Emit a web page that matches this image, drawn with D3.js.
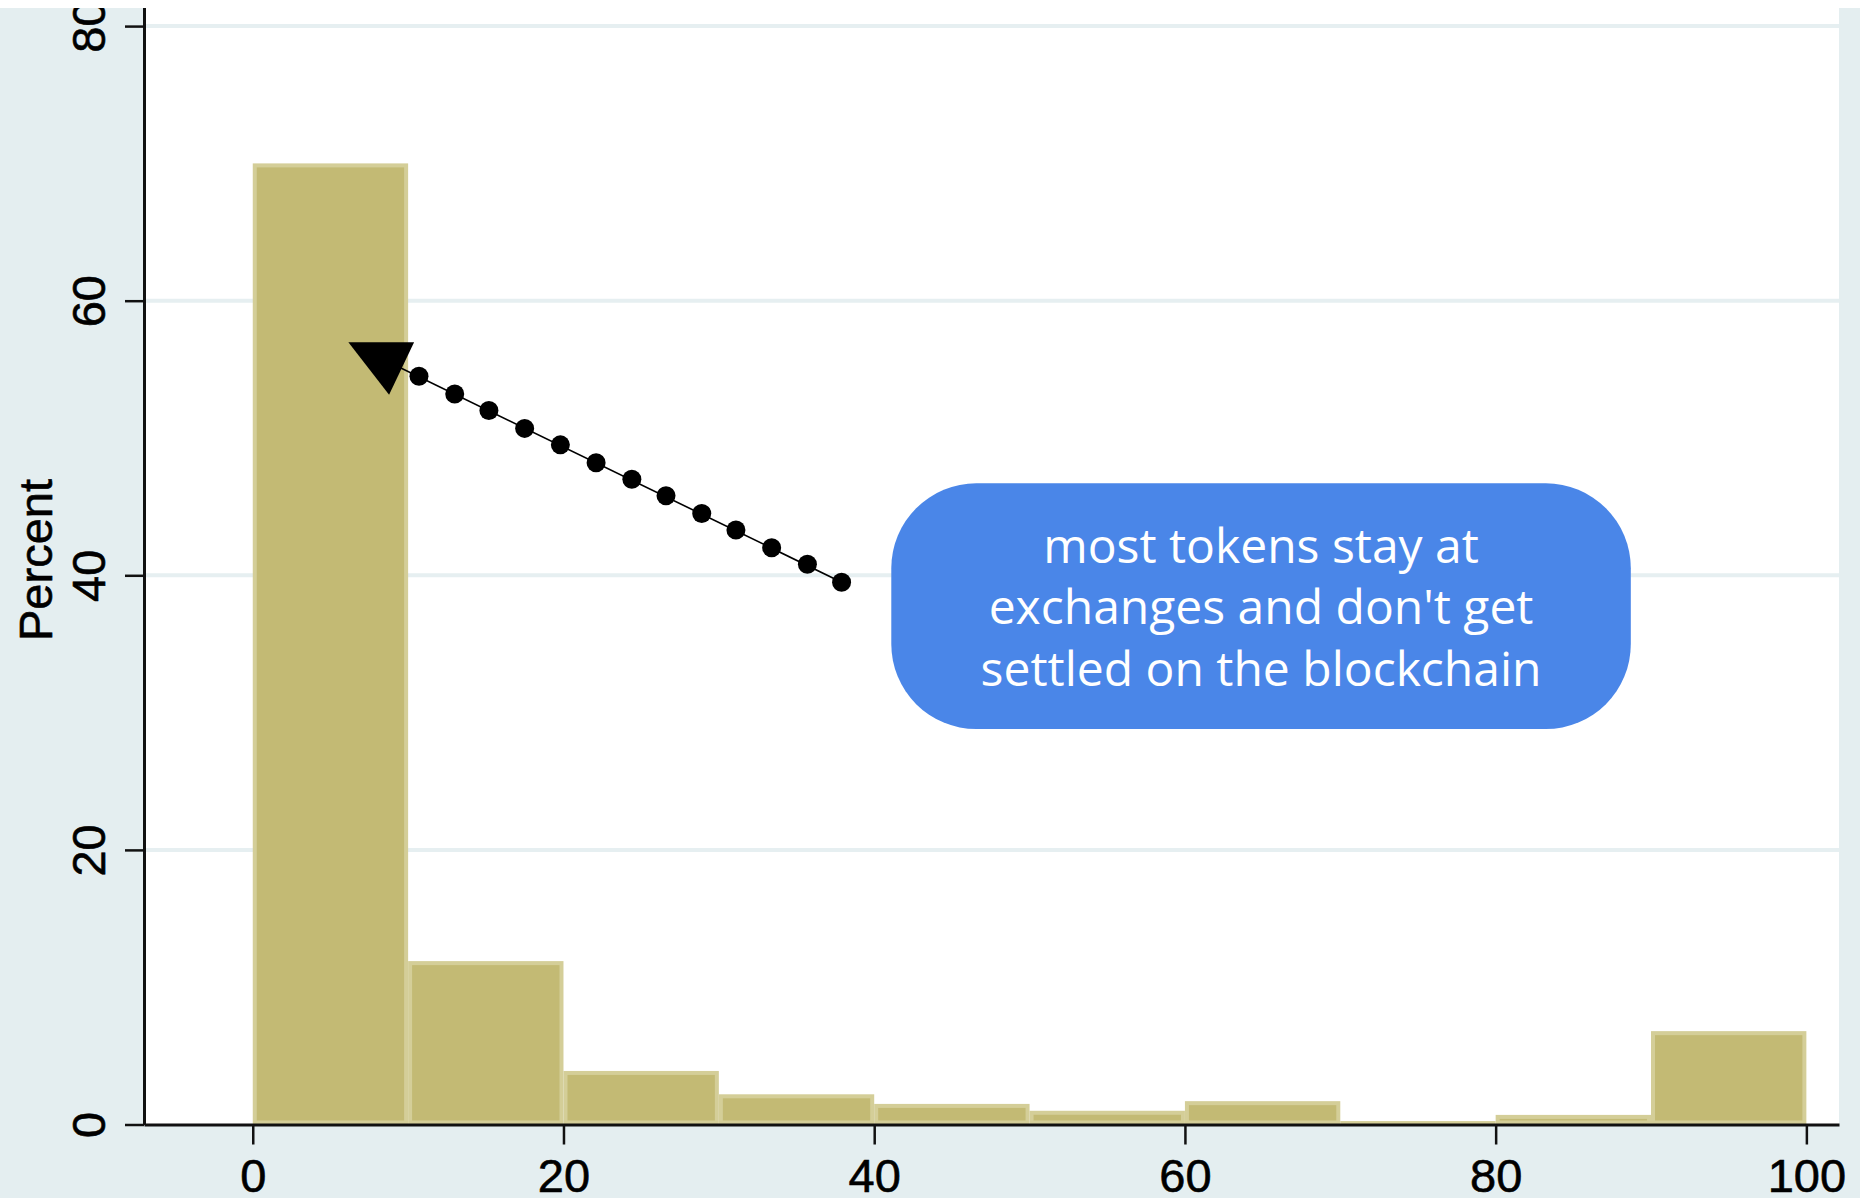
<!DOCTYPE html>
<html>
<head>
<meta charset="utf-8">
<script src="https://cdn.jsdelivr.net/npm/d3@7"></script>
<style>
  html, body { margin: 0; padding: 0; background: #e4eef0; }
  svg { display: block; }
</style>
</head>
<body>
<div id="chart"></div>
<script>
// histogram bins (percent of tokens), width 10
let binStarts = [0, 10, 20, 30, 40, 50, 60, 70, 80, 90];
let binWidth = 10;
let percents = [70.0, 11.9, 3.9, 2.2, 1.5, 1.0, 1.7, 0.25, 0.7, 6.8];

let xTicks = [0, 20, 40, 60, 80, 100];
let yTicks = [0, 20, 40, 60, 80];
let yTitle = "Percent";

// annotation: dotted pointer in data units
let dotX = [10.7, 13.0, 15.2, 17.5, 19.8, 22.1, 24.4, 26.6, 28.9, 31.1, 33.4, 35.7, 37.9];
let dotY = [54.5, 53.2, 52.0, 50.7, 49.5, 48.2, 47.0, 45.8, 44.5, 43.3, 42.0, 40.8, 39.5];
let arrowHead = [8.44, 55.7];
let calloutX = [41.1, 88.7];
let calloutY = [28.8, 46.7];
let calloutLines = ["most tokens stay at", "exchanges and don't get", "settled on the blockchain"];

let W = 1860, H = 1198;
let plotLeft = 144, plotRight = 1839, plotBottom = 1124.5;
let axisFont = "'Liberation Sans', Arial, sans-serif";

let svg = d3.select("#chart").append("svg")
    .attr("width", W)
    .attr("height", H);

// graph region
svg.append("rect")
    .attr("width", W).attr("height", H)
    .attr("fill", "#e4eef0");

// plot region
svg.append("rect")
    .attr("x", plotLeft).attr("y", 0)
    .attr("width", plotRight - plotLeft).attr("height", plotBottom)
    .attr("fill", "#ffffff");

let x = d3.scaleLinear()
    .domain([-7, 102.1])
    .range([plotLeft, plotRight]);

let y = d3.scaleLinear()
    .domain([0, 81.9])
    .range([plotBottom, 0]);

// gridlines
svg.append("g")
  .selectAll("line")
  .data(yTicks.filter(d => d > 0))
  .join("line")
    .attr("x1", plotLeft + 2).attr("x2", plotRight)
    .attr("y1", d => y(d)).attr("y2", d => y(d))
    .attr("stroke", "#e6eff1")
    .attr("stroke-width", 4);

// bars: light outer rect, darker fill inset by 4px
let bars = svg.append("g");
bars.selectAll("rect.edge")
  .data(percents)
  .join("rect")
    .attr("class", "edge")
    .attr("x", (d, i) => x(binStarts[i]))
    .attr("width", (d, i) => x(binStarts[i] + binWidth) - x(binStarts[i]))
    .attr("y", d => y(d))
    .attr("height", d => y(0) - y(d))
    .attr("fill", "#d4ce98");

bars.selectAll("rect.fill")
  .data(percents)
  .join("rect")
    .attr("class", "fill")
    .attr("x", (d, i) => x(binStarts[i]) + 4)
    .attr("width", (d, i) => x(binStarts[i] + binWidth) - x(binStarts[i]) - 8)
    .attr("y", d => y(d) + 4)
    .attr("height", d => Math.max(0, y(0) - y(d) - 8))
    .attr("fill", "#c3ba74");

// x axis
let xAxis = svg.append("g")
    .attr("transform", "translate(0," + plotBottom + ")")
    .call(d3.axisBottom(x).tickValues(xTicks).tickSize(20).tickSizeOuter(0));

xAxis.select(".domain").attr("stroke", "#111").attr("stroke-width", 3);
xAxis.selectAll(".tick line").attr("stroke", "#111").attr("stroke-width", 2.5);
xAxis.selectAll(".tick text")
    .attr("y", 67.5)
    .attr("dy", 0)
    .attr("fill", "#000")
    .attr("stroke", "#000")
    .attr("stroke-width", 0.6)
    .style("font-family", axisFont)
    .style("font-size", "47px");

// y axis
let yAxis = svg.append("g")
    .attr("transform", "translate(" + plotLeft + ",0)")
    .call(d3.axisLeft(y).tickValues(yTicks).tickSize(19).tickSizeOuter(0));

yAxis.select(".domain").attr("stroke", "#111").attr("stroke-width", 3);
yAxis.selectAll(".tick line").attr("stroke", "#111").attr("stroke-width", 2.5);
yAxis.selectAll(".tick text")
    .attr("x", null)
    .attr("dy", 0)
    .attr("transform", "translate(-39,0) rotate(-90)")
    .attr("text-anchor", "middle")
    .attr("fill", "#000")
    .attr("stroke", "#000")
    .attr("stroke-width", 0.6)
    .style("font-family", axisFont)
    .style("font-size", "47px");

// axis title
svg.append("text")
    .attr("transform", "translate(52,560) rotate(-90)")
    .attr("text-anchor", "middle")
    .attr("fill", "#000")
    .attr("stroke", "#000")
    .attr("stroke-width", 0.6)
    .style("font-family", axisFont)
    .style("font-size", "47px")
    .text(yTitle);

// pointer: line from the arrow head to the last dot
let lineEnd = dotX.length - 1;
svg.append("line")
    .attr("x1", x(arrowHead[0])).attr("y1", y(arrowHead[1]))
    .attr("x2", x(dotX[lineEnd])).attr("y2", y(dotY[lineEnd]))
    .attr("stroke", "#000")
    .attr("stroke-width", 1.6);

svg.append("g")
  .selectAll("circle")
  .data(dotX)
  .join("circle")
    .attr("cx", d => x(d))
    .attr("cy", (d, i) => y(dotY[i]))
    .attr("r", 9.5)
    .attr("fill", "#000");

// arrow head (down pointing triangle)
let tri = [[-35.5, -17.4], [30.2, -17.4], [5.2, 34.9]];
svg.append("path")
    .attr("transform", "translate(" + x(arrowHead[0]) + "," + y(arrowHead[1]) + ")")
    .attr("d", "M" + tri.map(p => p.join(",")).join("L") + "Z")
    .attr("fill", "#000");

// callout box
let bx0 = x(calloutX[0]), bx1 = x(calloutX[1]);
let by0 = y(calloutY[1]), by1 = y(calloutY[0]);
svg.append("rect")
    .attr("x", bx0).attr("y", by0)
    .attr("width", bx1 - bx0).attr("height", by1 - by0)
    .attr("rx", 85).attr("ry", 85)
    .attr("fill", "#4a86e8");

let cx = (bx0 + bx1) / 2, cy = (by0 + by1) / 2;
svg.append("g")
  .selectAll("text")
  .data(calloutLines)
  .join("text")
    .attr("x", cx)
    .attr("y", (d, i) => cy + 18 + (i - 1) * 61.5)
    .attr("text-anchor", "middle")
    .attr("fill", "#ffffff")
    .style("font-family", "'Open Sans', sans-serif")
    .style("font-size", "48px")
    .text(d => d);

// white strip along the top edge (crops the 80 label)
svg.append("rect")
    .attr("width", W).attr("height", 8)
    .attr("fill", "#ffffff");
</script>
</body>
</html>
